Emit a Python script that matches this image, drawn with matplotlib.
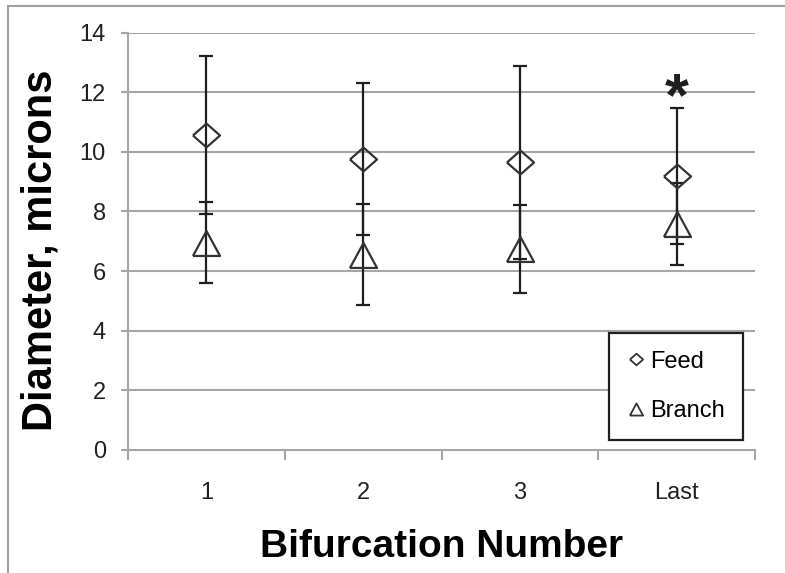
import matplotlib.pyplot as plt
from matplotlib.lines import Line2D
from matplotlib.patches import Rectangle

plt.rcParams['font.family'] = ['Liberation Sans', 'DejaVu Sans']

# bifurcation groups
categories = ['1', '2', '3', 'Last']
feed_mean = [10.57, 9.76, 9.65, 9.20]
feed_sd = [2.64, 2.54, 3.24, 2.28]
branch_mean = [6.95, 6.55, 6.73, 7.57]
branch_sd = [1.35, 1.70, 1.47, 1.38]
star_at = 'Last'
star_y = 11.75

x = list(range(1, len(categories) + 1))

grid_gray = '#a6a6a6'
ink = '#1e1e1e'

# hollow diamond and triangle shapes
diamond = [(-1, 0), (0, 0.88), (1, 0), (0, -0.88), (-1, 0)]
triangle = [(-1, -0.92), (0, 0.92), (1, -0.92), (-1, -0.92)]

fig = plt.figure(figsize=(7.85, 5.73), dpi=100)
ax = fig.add_axes([128 / 785, 1 - 450 / 573, 627 / 785, 417.5 / 573])

ax.set_ylim(0, 14)
ax.set_xlim(0.5, len(categories) + 0.5)
ax.set_yticks(range(0, 15, 2))
for yv in range(2, 15, 2):
    ax.axhline(yv, color=grid_gray, lw=1.5, zorder=0)

ax.errorbar(x, feed_mean, yerr=feed_sd, fmt='none', ecolor=ink, elinewidth=1.6,
            capsize=4.8, capthick=1.6, zorder=2)
ax.errorbar(x, branch_mean, yerr=branch_sd, fmt='none', ecolor=ink, elinewidth=1.6,
            capsize=4.8, capthick=1.6, zorder=2)
ax.plot(x, feed_mean, ls='none', marker=diamond, ms=19.5, mfc='none',
        mec='#333333', mew=1.6, zorder=3)
ax.plot(x, branch_mean, ls='none', marker=triangle, ms=19.5, mfc='none',
        mec='#333333', mew=1.6, zorder=3)

# significance mark
ax.text(categories.index(star_at) + 1, star_y, '*', ha='center', va='center',
        fontsize=44, color=ink, fontweight='bold')

for side in ['top', 'right']:
    ax.spines[side].set_visible(False)
for side in ['left', 'bottom']:
    ax.spines[side].set_color(grid_gray)
    ax.spines[side].set_linewidth(1.5)

ax.set_xticks(x)
ax.set_xticklabels(categories)
ax.set_xticks([v + 0.5 for v in range(0, len(categories) + 1)], minor=True)
ax.tick_params(axis='x', which='major', length=0, pad=23, labelsize=17, labelcolor='#222222')
ax.tick_params(axis='x', which='minor', length=7, width=1.5, color=grid_gray)
ax.tick_params(axis='y', length=5, width=1.5, color=grid_gray, pad=11,
               labelsize=17, labelcolor='#222222')

ax.set_ylabel('Diameter, microns', fontsize=30, fontweight='bold', va='center')
ax.yaxis.set_label_coords(-0.14, 0.479)
ax.set_xlabel('Bifurcation Number', fontsize=28, fontweight='bold', va='center')
ax.xaxis.set_label_coords(0.5, -0.232)

handles = [
    Line2D([], [], ls='none', marker=diamond, ms=9.5, mfc='none', mec='#333333', mew=1.3),
    Line2D([], [], ls='none', marker=triangle, ms=9.5, mfc='none', mec='#333333', mew=1.3),
]
leg = fig.legend(handles, ['Feed', 'Branch'], loc='upper left',
                 bbox_to_anchor=(609 / 785, 1 - 333 / 573), fontsize=17,
                 handlelength=0.8, handletextpad=0.2, labelspacing=1.15,
                 borderpad=0.75, borderaxespad=0, fancybox=False, framealpha=1)
leg.get_frame().set_edgecolor(ink)
leg.get_frame().set_linewidth(1.6)

# outer chart border
fig.patches.append(Rectangle((8 / 785, -0.05), 1.1, 1 - 6 / 573 + 0.05,
                             transform=fig.transFigure, fill=False,
                             edgecolor='#a0a0a0', lw=1.5))

fig.savefig('out.png', dpi=100)
